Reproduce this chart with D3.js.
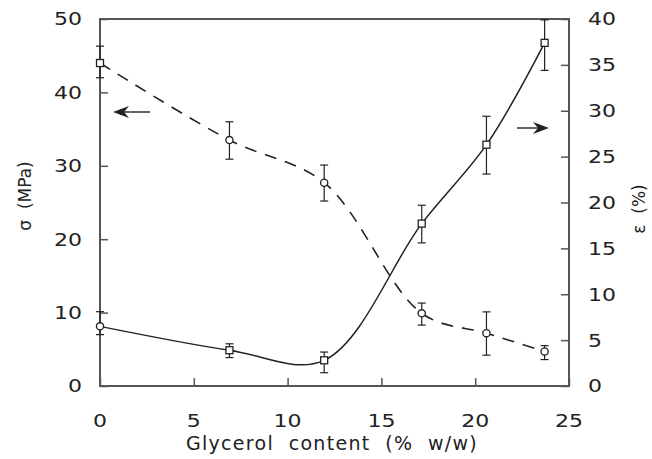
<!DOCTYPE html>
<html><head><meta charset="utf-8">
<script src="https://cdn.jsdelivr.net/npm/d3@7"></script>
<style>
body{margin:0;background:#fff;}
svg{display:block;}
text{font-family:"DejaVu Sans",sans-serif;fill:#222;white-space:pre;}
</style></head><body>
<svg id="c" width="652" height="459"></svg>
<script>
// Data
const glycerol = [0, 6.9, 11.95, 17.15, 20.6, 23.7];
const sigma = [44.0, 33.5, 27.7, 9.9, 7.2, 4.7];
const sigmaLow = [42.0, 30.9, 25.2, 8.3, 4.2, 3.6];
const sigmaHigh = [46.3, 36.0, 30.1, 11.3, 10.1, 5.5];
const epsilon = [6.5, 3.9, 2.8, 17.7, 26.3, 37.4];
const epsilonLow = [5.6, 3.1, 1.45, 15.6, 23.1, 34.4];
const epsilonHigh = [8.1, 4.6, 3.7, 19.7, 29.4, 39.9];
const xTicks = [0, 5, 10, 15, 20, 25];
const yLeftTicks = [0, 10, 20, 30, 40, 50];
const yRightTicks = [0, 5, 10, 15, 20, 25, 30, 35, 40];
const xTitle = "Glycerol  content  (%  w/w)";
const yLeftTitle = "σ  (MPa)";
const yRightTitle = "ε  (%)";

const svg = d3.select("#c");
const L = 100, R = 569, T = 19, B = 386;
const x = d3.scaleLinear().domain([0, 25]).range([L, R]);
const yl = d3.scaleLinear().domain([0, 50]).range([B, T]);
const yr = d3.scaleLinear().domain([0, 40]).range([B, T]);
const ink = "#222", axisCol = "#555";

// Axes (ticks inward)
const gx = svg.append("g").attr("transform", `translate(0,${B})`)
  .call(d3.axisTop(x).tickValues(xTicks).tickSize(8).tickFormat(""));
const gl = svg.append("g").attr("transform", `translate(${L},0)`)
  .call(d3.axisRight(yl).tickValues(yLeftTicks).tickSize(8).tickFormat(""));
const gr = svg.append("g").attr("transform", `translate(${R},0)`)
  .call(d3.axisLeft(yr).tickValues(yRightTicks).tickSize(8).tickFormat(""));
[gx, gl, gr].forEach(g => {
  g.select(".domain").remove();
  g.selectAll(".tick line").attr("stroke", axisCol).attr("stroke-width", 1.5);
});
// frame
svg.append("rect").attr("x", L).attr("y", T).attr("width", R - L).attr("height", B - T)
  .attr("fill", "none").attr("stroke", axisCol).attr("stroke-width", 2);

// tick labels
const fs = 18;
function digits(sel, w) {
  sel.attr("font-size", fs).attr("textLength", d => String(d).length * w)
     .attr("lengthAdjust", "spacingAndGlyphs").text(d => d);
}
svg.append("g").selectAll("text").data(xTicks).join("text")
  .attr("x", d => x(d)).attr("y", B + 41).attr("text-anchor", "middle")
  .call(digits, 14);
svg.append("g").selectAll("text").data(yLeftTicks).join("text")
  .attr("x", L - 18).attr("y", d => yl(d)).attr("dy", "0.36em").attr("text-anchor", "end")
  .call(digits, 14);
svg.append("g").selectAll("text").data(yRightTicks).join("text")
  .attr("x", R + 19).attr("y", d => yr(d)).attr("dy", "0.36em").attr("text-anchor", "start")
  .call(digits, 14);

// titles
svg.append("text").attr("x", 332).attr("y", 450).attr("text-anchor", "middle")
  .attr("font-size", 19).attr("letter-spacing", 1.3).text(xTitle);
svg.append("text").attr("transform", "translate(31,196) rotate(-90)").attr("text-anchor", "middle")
  .attr("font-size", 17).text(yLeftTitle);
svg.append("text").attr("transform", "translate(645,209) rotate(-90)").attr("text-anchor", "middle")
  .attr("font-size", 17).text(yRightTitle);

// lines
const idx = d3.range(glycerol.length);
const lineS = d3.line().x(i => x(glycerol[i])).y(i => yl(sigma[i])).curve(d3.curveCatmullRom.alpha(0.5));
const lineE = d3.line().x(i => x(glycerol[i])).y(i => yr(epsilon[i])).curve(d3.curveCatmullRom.alpha(0.5));
svg.append("path").attr("d", lineS(idx)).attr("fill", "none").attr("stroke", ink)
  .attr("stroke-width", 1.6).attr("stroke-dasharray", "12,9");
svg.append("path").attr("d", lineE(idx)).attr("fill", "none").attr("stroke", ink)
  .attr("stroke-width", 1.5);

// error bars
function errBars(lo, hi, ys) {
  const g = svg.append("g").attr("stroke", ink).attr("stroke-width", 1.2);
  idx.forEach(i => {
    const cx = x(glycerol[i]);
    g.append("line").attr("x1", cx).attr("x2", cx).attr("y1", ys(lo[i])).attr("y2", ys(hi[i]));
    [lo[i], hi[i]].forEach(v => g.append("line").attr("x1", cx - 4).attr("x2", cx + 4)
      .attr("y1", ys(v)).attr("y2", ys(v)));
  });
}
errBars(sigmaLow, sigmaHigh, yl);
errBars(epsilonLow, epsilonHigh, yr);

// markers
function marker(cx, cy, shape) {
  if (shape === "circle") {
    svg.append("circle").attr("cx", cx).attr("cy", cy).attr("r", 3.6)
      .attr("fill", "#fff").attr("stroke", ink).attr("stroke-width", 1.3);
  } else {
    svg.append("rect").attr("x", cx - 3.5).attr("y", cy - 3.5).attr("width", 7).attr("height", 7)
      .attr("fill", "#fff").attr("stroke", ink).attr("stroke-width", 1.3);
  }
}
idx.forEach(i => marker(x(glycerol[i]), yl(sigma[i]), i === 0 ? "square" : "circle"));
idx.forEach(i => marker(x(glycerol[i]), yr(epsilon[i]), i === 0 ? "circle" : "square"));

// arrows
function arrow(x1, x2, y) {
  const dir = Math.sign(x2 - x1);
  svg.append("line").attr("x1", x1).attr("x2", x2 - dir * 8).attr("y1", y).attr("y2", y)
    .attr("stroke", ink).attr("stroke-width", 1.4);
  svg.append("path").attr("d", `M${x2},${y} L${x2 - dir * 16},${y - 6} L${x2 - dir * 11},${y} L${x2 - dir * 16},${y + 6} Z`)
    .attr("fill", ink);
}
arrow(150, 113, 112);
arrow(517, 549, 128);
</script></body></html>
